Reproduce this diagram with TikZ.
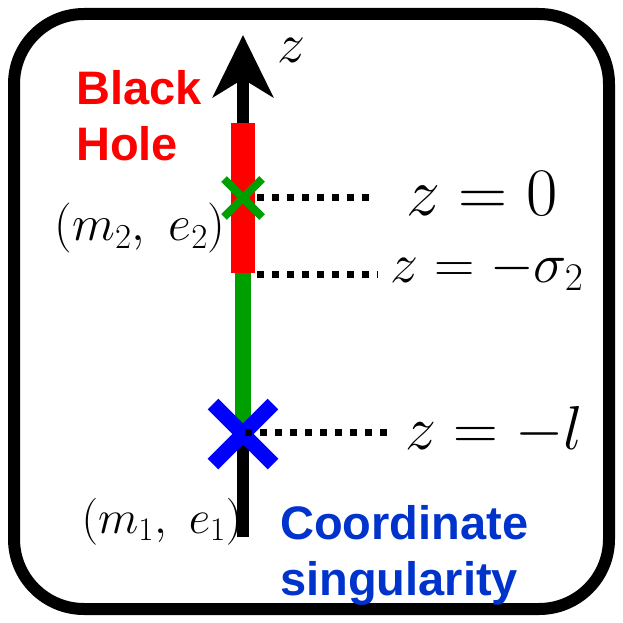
\RequirePackage{fix-cm}
\documentclass[tikz,border=0pt]{standalone}
\usepackage{fontspec}
\setsansfont{Liberation Sans}
\usepackage{tikz}
\usetikzlibrary{arrows.meta,positioning,shapes.misc}
\definecolor{holered}{HTML}{FF0000}
\definecolor{rodgreen}{HTML}{009F00}
\definecolor{crossblue}{HTML}{0000FF}
\definecolor{noteblue}{HTML}{0033CC}
\tikzset{
  axisarrow/.style={-{Stealth[length=62pt,width=60pt,inset=18pt]},line width=12pt},
  guideline/.style={line width=7pt,dash pattern=on 7pt off 8pt},
  crossmark/.style={cross out,draw,inner sep=0pt},
  eqlabel/.style={inner sep=0pt,font=\fontsize{68}{72}\selectfont},
  pairlabel/.style={inner sep=0pt,font=\fontsize{50}{54}\selectfont},
  notelabel/.style={inner sep=0pt,align=left,font=\fontsize{47}{56}\selectfont\sffamily\bfseries}
}
\begin{document}
\begin{tikzpicture}[x=1pt,y=-1pt]
  \useasboundingbox (0,0) rectangle (623,623);
  % frame
  \draw[line width=12pt,rounded corners=70pt] (14,14) rectangle (609,609);
  % z axis and rods
  \coordinate (bottom) at (243,537);
  \coordinate (top) at (243,35);
  \draw[axisarrow] (bottom) -- (top);
  \fill[holered] (231,123) rectangle (255,273);
  \fill[rodgreen] (235,273) rectangle (251,425);
  % points on the axis
  \node[crossmark,draw=rodgreen,line width=8pt,minimum size=30pt] (bh) at (243,198) {};
  \node[crossmark,draw=crossblue,line width=15pt,minimum size=45pt] (cs) at (243,434) {};
  % guide lines
  \coordinate (g1) at (257,197);
  \coordinate (g2) at (257,274);
  \coordinate (g3) at (245,432);
  \node[eqlabel] (eqzero) at (482,194) {$z = 0$};
  \node[eqlabel,font=\fontsize{56}{60}\selectfont] (eqsigma) at (487,270) {$z = -\sigma_2$};
  \node[eqlabel,font=\fontsize{62}{66}\selectfont] (eql) at (494,431) {$z = -l$};
  \draw[guideline] (g1) -- (370,197);
  \draw[guideline] (g2) -- (378,274);
  \draw[guideline] (g3) -- (393,432);
  % labels
  \node[eqlabel,font=\fontsize{56}{60}\selectfont] (zlab) at (291,50) {$z$};
  \node[pairlabel] (pairtwo) at (140,228) {$(m_2,\ e_2)$};
  \node[pairlabel,font=\fontsize{47}{50}\selectfont] (pairone) at (162,522) {$(m_1,\ e_1)$};
  \node[notelabel,text=holered,anchor=north west] (bhname) at (76,70) {Black\\Hole};
  \node[notelabel,text=noteblue,anchor=north west] (csname) at (280,505) {Coordinate\\singularity};
\end{tikzpicture}
\end{document}
